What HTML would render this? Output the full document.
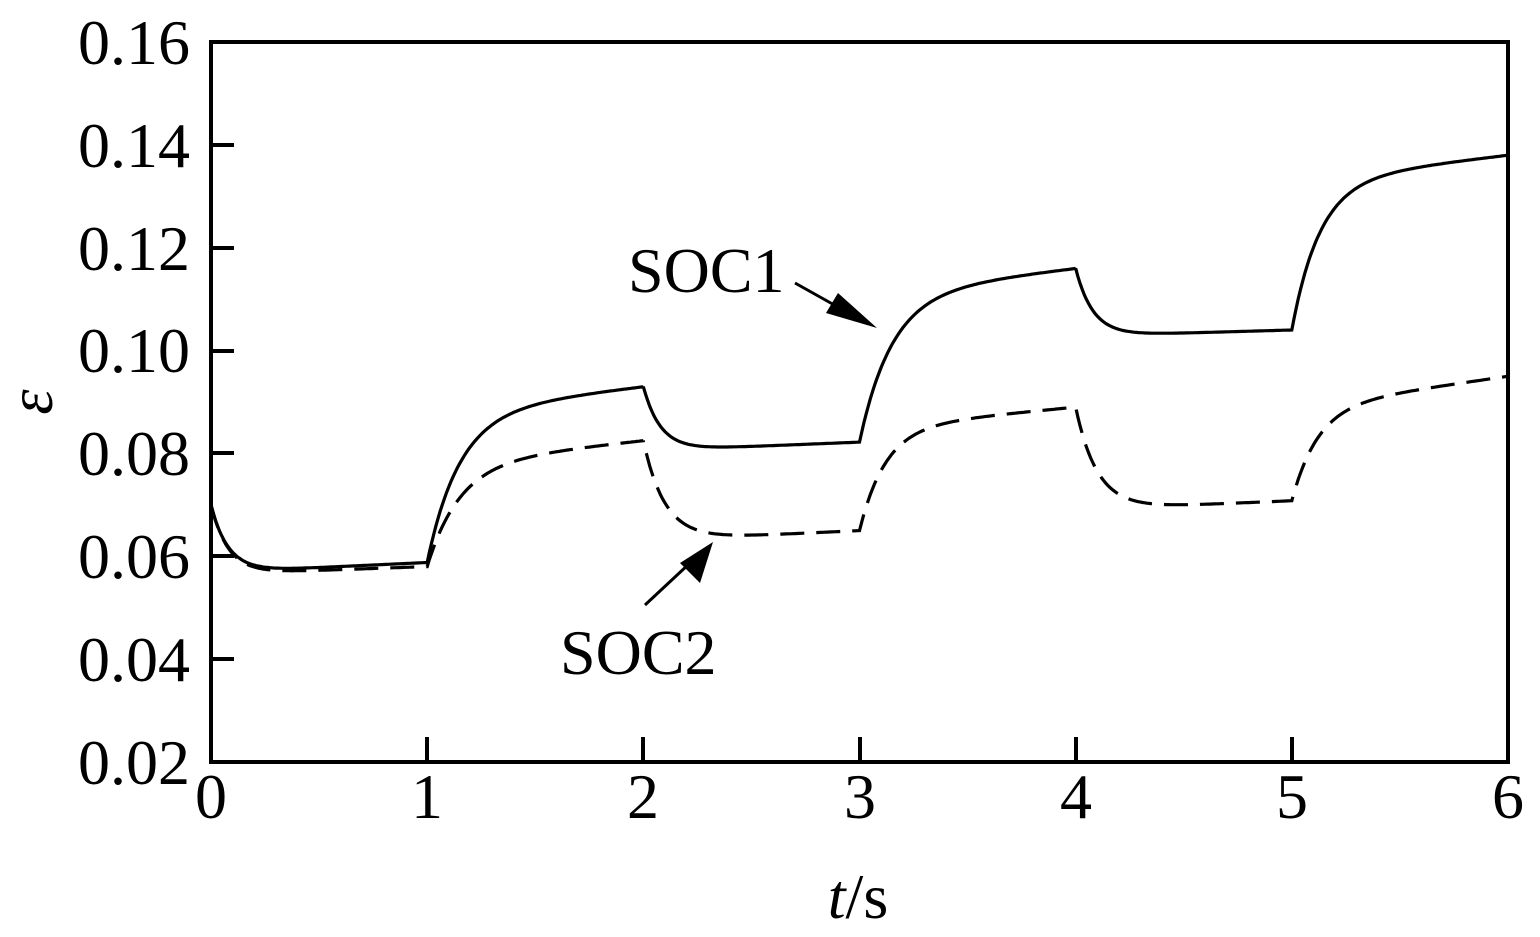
<!DOCTYPE html>
<html><head><meta charset="utf-8"><style>
body{margin:0;background:#fff}
text{font-family:"Liberation Serif",serif;fill:#000}
</style></head><body>
<svg id="s" width="1540" height="932" xmlns="http://www.w3.org/2000/svg">
<rect x="0" y="0" width="1540" height="932" fill="#fff"/>
<g font-size="64" text-anchor="end">
<text x="190" y="64">0.16</text>
<text x="190" y="167">0.14</text>
<text x="190" y="270">0.12</text>
<text x="190" y="372">0.10</text>
<text x="190" y="475">0.08</text>
<text x="190" y="578">0.06</text>
<text x="190" y="681">0.04</text>
<text x="190" y="784">0.02</text>
</g>
<g font-size="64" text-anchor="middle">
<text x="211" y="818">0</text>
<text x="427" y="818">1</text>
<text x="643" y="818">2</text>
<text x="860" y="818">3</text>
<text x="1076" y="818">4</text>
<text x="1292" y="818">5</text>
<text x="1508" y="818">6</text>
<text x="858" y="918"><tspan font-style="italic">t</tspan>/s</text>
</g>
<text x="0" y="0" font-size="64" font-style="italic" text-anchor="middle" transform="translate(52,402) rotate(-90)">ε</text>
<g stroke="#000" stroke-width="4" fill="none">
<path d="M211 42 H1508 V762 H211 Z"/>
<path d="M211 145h23M211 248h23M211 351h23M211 453h23M211 556h23M211 659h23"/>
<path d="M427 762v-25M643 762v-25M860 762v-25M1076 762v-25M1292 762v-25"/>
</g>
<path id="p1" stroke="#000" stroke-width="3.2" fill="none"/>
<path id="p2" stroke="#000" stroke-width="3.2" fill="none" stroke-dasharray="24 12"/>
<text x="628" y="292" font-size="64">SOC1</text>
<text x="560" y="674" font-size="64">SOC2</text>
<g stroke="#000" stroke-width="3"><line x1="795" y1="283" x2="845" y2="311"/><line x1="645" y1="605" x2="690" y2="563"/></g>
<polygon points="877,328 826,313 838,293" fill="#000"/>
<polygon points="713,542 700,583 680,563" fill="#000"/>
</svg>
<script>
function Y(v){return 762-(v-0.02)/0.02*102.857;}
function X(t){return 211+t*216.17;}
function build(segs){
 var d="";
 segs.forEach(function(s,i){
  for(var k=0;k<=100;k++){
   var dt=k/100, t=i+dt;
   var v=s[1]+(s[0]-s[1])*Math.exp(-dt/s[2])+s[3]*dt;
   d+=(d?"L":"M")+X(t).toFixed(1)+" "+Y(v).toFixed(1);
  }
 });
 return d;
}
document.getElementById("p1").setAttribute("d",build([
[.070,.0568,.08,.002],[.0588,.088,.15,.005],[.093,.0805,.08,.0017],
[.0822,.111,.15,.005],[.116,.1028,.08,.0012],[.104,.133,.13,.005]]));
document.getElementById("p2").setAttribute("d",build([
[.070,.0565,.08,.0015],[.058,.078,.15,.0045],[.0825,.063,.1,.002],
[.065,.085,.12,.004],[.089,.069,.1,.0018],[.0708,.089,.12,.006]]));
</script>
</body></html>
